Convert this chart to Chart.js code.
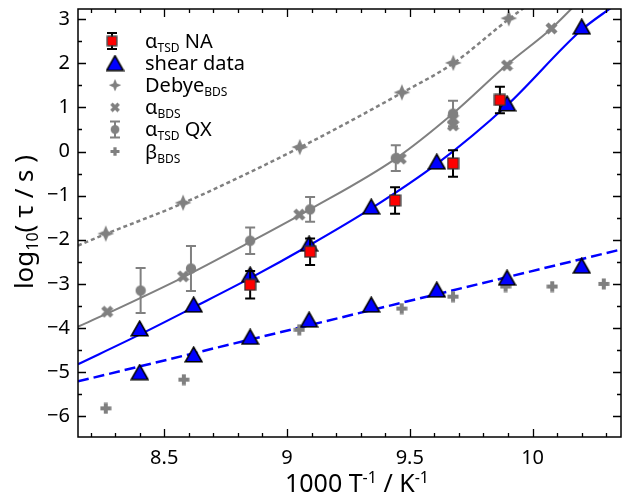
<!DOCTYPE html>
<html>
<head>
<meta charset="utf-8">
<script src="https://cdn.jsdelivr.net/npm/chart.js@4/dist/chart.umd.min.js"></script>
<style>
  html, body { margin: 0; padding: 0; background: #fff; }
  #c { display: block; }
</style>
</head>
<body>
<canvas id="c" width="630" height="498"></canvas>
<script>
const FONT = "'Noto Sans', 'Open Sans', sans-serif";

// axes
const xMin = 8.149, xMax = 10.36;
const yMin = -6.47, yMax = 3.23;
const xTicks = [8.5, 9, 9.5, 10];
const yTicks = [-6, -5, -4, -3, -2, -1, 0, 1, 2, 3];

// alpha_TSD NA (red squares, black error bars)
const naX = [8.85, 9.094, 9.44, 9.676, 9.867];
const naY = [-3.02, -2.27, -1.11, -0.27, 1.17];
const naErr = [0.31, 0.30, 0.30, 0.30, 0.30];

// shear data (blue triangles), alpha and beta branches
const shearAX = [8.40, 8.62, 8.85, 9.09, 9.343, 9.61, 9.896, 10.2];
const shearAY = [-4.01, -3.47, -2.79, -2.09, -1.25, -0.23, 1.09, 2.83];
const shearBX = [8.40, 8.62, 8.85, 9.09, 9.343, 9.61, 9.896, 10.2];
const shearBY = [-5.0, -4.6, -4.2, -3.81, -3.47, -3.13, -2.86, -2.59];

// Debye_BDS (grey 4-point stars)
const debyeX = [8.262, 8.577, 9.052, 9.468, 9.677, 9.903];
const debyeY = [-1.86, -1.16, 0.10, 1.34, 2.01, 3.02];

// alpha_BDS (grey X)
const bdsAX = [8.268, 8.577, 9.05, 9.463, 9.676, 9.676, 9.896, 10.077];
const bdsAY = [-3.63, -2.83, -1.43, -0.16, 0.74, 0.59, 1.95, 2.79];

// alpha_TSD QX (grey circles, grey error bars)
const qxX = [8.404, 8.609, 8.85, 9.094, 9.443, 9.676];
const qxY = [-3.15, -2.65, -2.02, -1.31, -0.15, 0.86];
const qxErr = [0.51, 0.51, 0.30, 0.28, 0.29, 0.29];

// beta_BDS (grey plus)
const bdsBX = [8.262, 8.58, 9.05, 9.467, 9.676, 9.89, 10.08, 10.29];
const bdsBY = [-5.82, -5.17, -4.04, -3.56, -3.29, -3.06, -3.06, -3.0];

// fit curves
const debyeFitX = [8.149, 8.262, 8.577, 9.052, 9.468, 9.677, 9.903, 9.98];
const debyeFitY = [-2.13, -1.87, -1.17, 0.09, 1.33, 2.0, 3.0, 3.32];
const alphaFitX = [8.149, 8.268, 8.577, 8.85, 9.094, 9.443, 9.676, 9.896, 10.077, 10.17];
const alphaFitY = [-3.97, -3.67, -2.85, -2.05, -1.31, -0.16, 0.86, 1.97, 2.79, 3.3];
const shearFitX = [8.149, 8.40, 8.62, 8.85, 9.09, 9.343, 9.61, 9.896, 10.2, 10.32];
const shearFitY = [-4.82, -4.15, -3.53, -2.87, -2.13, -1.29, -0.28, 1.05, 2.76, 3.26];
const betaFitX = [8.149, 10.36];
const betaFitY = [-5.21, -2.22];

const GREY = '#808080';
const BLUE = '#0000ff';
const RED = '#ff0000';

const pts = (xs, ys) => xs.map((x, i) => ({ x, y: ys[i] }));

function mk(w, h, draw) {
  const c = document.createElement('canvas');
  c.width = w; c.height = h;
  draw(c.getContext('2d'), w, h);
  return c;
}

const mTri = mk(19, 17, (g, w, h) => {
  g.beginPath();
  g.moveTo(w / 2, 1.2);
  g.lineTo(w - 1.2, h - 1.2);
  g.lineTo(1.2, h - 1.2);
  g.closePath();
  g.fillStyle = BLUE; g.fill();
  g.lineWidth = 1.6; g.strokeStyle = '#000'; g.lineJoin = 'miter'; g.stroke();
});
const mSq = mk(13, 13, (g) => {
  g.fillStyle = RED; g.fillRect(1, 1, 11, 11);
  g.lineWidth = 1.3; g.strokeStyle = '#333'; g.strokeRect(1.1, 1.1, 10.8, 10.8);
});
const mCirc = mk(12, 12, (g) => {
  g.beginPath(); g.arc(6, 6, 5.2, 0, Math.PI * 2);
  g.fillStyle = GREY; g.fill();
});
const mStar = mk(18, 18, (g) => {
  const c = 9, ro = 8.3, ri = 3.4;
  g.beginPath();
  for (let i = 0; i < 8; i++) {
    const a = -Math.PI / 2 + i * Math.PI / 4;
    const r = i % 2 ? ri : ro;
    const px = c + Math.cos(a) * r, py = c + Math.sin(a) * r;
    i ? g.lineTo(px, py) : g.moveTo(px, py);
  }
  g.closePath(); g.fillStyle = GREY; g.fill();
});
const mX = mk(13, 13, (g) => {
  g.strokeStyle = GREY; g.lineWidth = 4.4; g.lineCap = 'butt';
  g.beginPath();
  g.moveTo(2, 2); g.lineTo(11, 11);
  g.moveTo(11, 2); g.lineTo(2, 11);
  g.stroke();
});
const mPlus = mk(12, 12, (g) => {
  g.fillStyle = GREY;
  g.fillRect(4, 0.5, 4, 11);
  g.fillRect(0.5, 4, 11, 4);
});

function fmt(v) {
  return v < 0 ? '\u2212' + Math.abs(v) : String(v);
}

// rich text with sub/superscripts
function drawRich(ctx, segs, x, y, size, align) {
  const small = Math.round(size * 0.62);
  let total = 0;
  segs.forEach(s => {
    ctx.font = `${s.sub || s.sup ? small : size}px ${FONT}`;
    s.w = ctx.measureText(s.t).width;
    total += s.w;
  });
  let cx = align === 'center' ? x - total / 2 : x;
  segs.forEach(s => {
    ctx.font = `${s.sub || s.sup ? small : size}px ${FONT}`;
    let dy = 0;
    if (s.sub) dy = size * 0.2;
    if (s.sup) dy = -size * 0.38;
    ctx.fillText(s.t, cx, y + dy);
    cx += s.w;
  });
}

const errBars = {
  id: 'errBars',
  beforeDatasetDraw(chart, args) {
    const ds = chart.data.datasets[args.index];
    if (!ds.err) return;
    const ctx = chart.ctx, xs = chart.scales.x, ys = chart.scales.y;
    ctx.save();
    ctx.strokeStyle = ds.errColor;
    ctx.lineWidth = 2;
    ds.data.forEach((p, i) => {
      const px = xs.getPixelForValue(p.x);
      const y1 = ys.getPixelForValue(p.y + ds.err[i]);
      const y2 = ys.getPixelForValue(p.y - ds.err[i]);
      ctx.beginPath();
      ctx.moveTo(px, y1); ctx.lineTo(px, y2);
      ctx.moveTo(px - 5, y1); ctx.lineTo(px + 5, y1);
      ctx.moveTo(px - 5, y2); ctx.lineTo(px + 5, y2);
      ctx.stroke();
    });
    ctx.restore();
  }
};

const frame = {
  id: 'frame',
  afterDatasetsDraw(chart) {
    const { ctx, chartArea: a } = chart;
    const xs = chart.scales.x, ys = chart.scales.y;
    ctx.save();
    ctx.strokeStyle = '#000';
    ctx.lineWidth = 1.3;
    ctx.beginPath();
    // x ticks every 0.1, major on the labels
    for (let k = Math.ceil(xMin * 10); k <= Math.floor(xMax * 10); k++) {
      const v = k / 10;
      const len = xTicks.some(t => Math.abs(t - v) < 1e-6) ? 8 : 4;
      const px = Math.round(xs.getPixelForValue(v)) + 0.5;
      ctx.moveTo(px, a.bottom); ctx.lineTo(px, a.bottom - len);
      ctx.moveTo(px, a.top); ctx.lineTo(px, a.top + len);
    }
    for (let k = Math.ceil(yMin * 2); k <= Math.floor(yMax * 2); k++) {
      const v = k / 2;
      const len = k % 2 === 0 ? 8 : 4;
      const py = Math.round(ys.getPixelForValue(v)) + 0.5;
      ctx.moveTo(a.left, py); ctx.lineTo(a.left + len, py);
      ctx.moveTo(a.right, py); ctx.lineTo(a.right - len, py);
    }
    ctx.stroke();
    ctx.lineWidth = 1.5;
    ctx.strokeRect(a.left, a.top, a.right - a.left, a.bottom - a.top);
    ctx.restore();
  },
  afterDraw(chart) {
    const ctx = chart.ctx;
    ctx.save();
    ctx.fillStyle = '#000';
    ctx.textBaseline = 'alphabetic';
    // axis titles
    drawRich(ctx, [{ t: '1000 T' }, { t: '-1', sup: true }, { t: ' / K' }, { t: '-1', sup: true }], 357, 492, 25, 'center');
    ctx.save();
    ctx.translate(33, 222);
    ctx.rotate(-Math.PI / 2);
    drawRich(ctx, [{ t: 'log' }, { t: '10', sub: true }, { t: '( \u03c4 / s )' }], 0, 0, 26, 'center');
    ctx.restore();

    // legend
    const rows = [
      { m: mSq, k: 0.85, err: '#000', segs: [{ t: '\u03b1' }, { t: 'TSD', sub: true }, { t: ' NA' }] },
      { m: mTri, k: 1, segs: [{ t: 'shear data' }] },
      { m: mStar, k: 0.75, segs: [{ t: 'Debye' }, { t: 'BDS', sub: true }] },
      { m: mX, k: 0.8, segs: [{ t: '\u03b1' }, { t: 'BDS', sub: true }] },
      { m: mCirc, k: 0.85, err: GREY, segs: [{ t: '\u03b1' }, { t: 'TSD', sub: true }, { t: ' QX' }] },
      { m: mPlus, k: 0.8, segs: [{ t: '\u03b2' }, { t: 'BDS', sub: true }] },
    ];
    rows.forEach((r, i) => {
      const cy = 41 + i * 22.1, cx = i === 0 ? 112 : 115;
      if (r.err) {
        ctx.strokeStyle = r.err; ctx.lineWidth = 2;
        ctx.beginPath();
        ctx.moveTo(cx, cy - 8); ctx.lineTo(cx, cy + 8);
        ctx.moveTo(cx - 5, cy - 8); ctx.lineTo(cx + 5, cy - 8);
        ctx.moveTo(cx - 5, cy + 8); ctx.lineTo(cx + 5, cy + 8);
        ctx.stroke();
      }
      const w = r.m.width * r.k, h = r.m.height * r.k;
      ctx.drawImage(r.m, cx - w / 2, cy - h / 2, w, h);
      drawRich(ctx, r.segs, 145, cy + 7, 20, 'left');
    });
    ctx.restore();
  }
};

const marker = (label, xs, ys, img, extra) => Object.assign({
  label, data: pts(xs, ys), pointStyle: img, pointRadius: 8, showLine: false
}, extra || {});

const fitLine = (xs, ys, color, width, dash, curve) => ({
  data: pts(xs, ys), showLine: true, pointRadius: 0, borderColor: color,
  borderWidth: width, borderDash: dash, fill: false, clip: 0,
  cubicInterpolationMode: curve ? 'monotone' : 'default', tension: 0
});

new Chart(document.getElementById('c'), {
  type: 'scatter',
  data: {
    datasets: [
      marker('NA', naX, naY, mSq, { err: naErr, errColor: '#000' }),
      marker('shear a', shearAX, shearAY, mTri),
      marker('shear b', shearBX, shearBY, mTri),
      marker('QX', qxX, qxY, mCirc, { err: qxErr, errColor: GREY }),
      marker('alpha BDS', bdsAX, bdsAY, mX),
      marker('Debye', debyeX, debyeY, mStar),
      marker('beta BDS', bdsBX, bdsBY, mPlus),
      fitLine(shearFitX, shearFitY, BLUE, 2.2, [], true),
      fitLine(betaFitX, betaFitY, BLUE, 2.5, [11, 5], false),
      fitLine(alphaFitX, alphaFitY, GREY, 2, [], true),
      fitLine(debyeFitX, debyeFitY, GREY, 2.5, [4, 3], true),
    ]
  },
  options: {
    responsive: false,
    animation: false,
    events: [],
    devicePixelRatio: 1,
    layout: { padding: { top: 8, right: 2, left: 0, bottom: 0 } },
    plugins: { legend: { display: false }, tooltip: { enabled: false } },
    scales: {
      x: {
        type: 'linear', min: xMin, max: xMax,
        grid: { display: false, drawTicks: false },
        border: { display: false },
        ticks: { padding: 9, color: '#000', font: { family: FONT, size: 20 }, callback: fmt },
        afterBuildTicks: s => { s.ticks = xTicks.map(v => ({ value: v })); },
        afterFit: s => { s.height = 61; s.paddingLeft = 0; s.paddingRight = 0; }
      },
      y: {
        type: 'linear', min: yMin, max: yMax,
        grid: { display: false, drawTicks: false },
        border: { display: false },
        ticks: { padding: 8, color: '#000', font: { family: FONT, size: 20 }, callback: fmt },
        afterBuildTicks: s => { s.ticks = yTicks.map(v => ({ value: v })); },
        afterFit: s => { s.width = 78; s.paddingTop = 0; s.paddingBottom = 0; }
      }
    }
  },
  plugins: [errBars, frame]
});
</script>
</body>
</html>
